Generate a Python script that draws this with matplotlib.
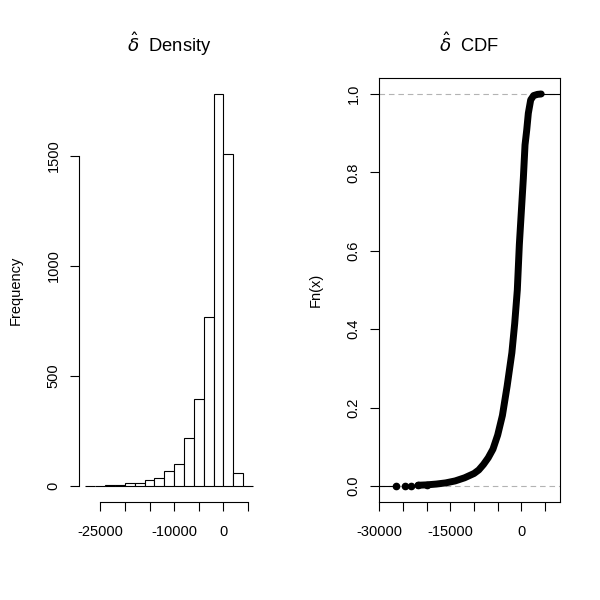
import numpy as np
import matplotlib.pyplot as plt

plt.rcParams['font.family'] = ['Liberation Sans', 'DejaVu Sans']
plt.rcParams['mathtext.fontset'] = 'dejavusans'
plt.rcParams['axes.unicode_minus'] = False

# histogram of delta-hat (bin width 2000)
bin_edges = [-28000, -26000, -24000, -22000, -20000, -18000, -16000, -14000, -12000,
             -10000, -8000, -6000, -4000, -2000, 0, 2000, 4000, 6000]
counts = [1, 1, 4, 5, 12, 12, 26, 36, 67, 100, 217, 394, 768, 1782, 1509, 58, 0]

hist_xticks = [-25000, -20000, -15000, -10000, -5000, 0, 5000]
hist_xlabels = ['-25000', '', '', '-10000', '', '0', '']
hist_yticks = [0, 500, 1000, 1500]

cdf_x = [-26430, -24650, -23250, -21840, -20000, -18000, -16000, -14000, -12000,
         -10000, -9000, -8000, -7000, -6000, -5000, -4000, -3000, -2000, -1400, -850,
         -420, 0, 430, 780, 1140, 1480, 1980, 2600, 3400, 4200]
cdf_y = [0.0002, 0.0006, 0.0012, 0.002, 0.003, 0.005, 0.008, 0.013, 0.021,
         0.032, 0.041, 0.055, 0.072, 0.094, 0.13, 0.18, 0.255, 0.34, 0.415, 0.5,
         0.616, 0.70, 0.786, 0.87, 0.908, 0.951, 0.985, 0.996, 0.999, 1.0]

cdf_xticks = [-30000, -25000, -20000, -15000, -10000, -5000, 0, 5000]
cdf_xlabels = ['-30000', '', '', '-15000', '', '', '0', '']
cdf_yticks = [0.0, 0.2, 0.4, 0.6, 0.8, 1.0]

fs = 10.5
fig = plt.figure(figsize=(6, 6), dpi=100)
ax1 = fig.add_axes([0.1312, 0.1638, 0.3017, 0.7057])
ax2 = fig.add_axes([0.6312, 0.1638, 0.3017, 0.7057])

# ---- left: histogram
edges = np.array(bin_edges)
ax1.bar(edges[:-1], counts, width=np.diff(edges), align='edge',
        facecolor='white', edgecolor='black', linewidth=0.8)
ax1.set_xlim(-29360, 7360)
ax1.set_ylim(-71.3, 1853.3)
for s in ['top', 'right']:
    ax1.spines[s].set_visible(False)
ax1.spines['left'].set_bounds(0, 1500)
ax1.spines['bottom'].set_bounds(-25000, 5000)
ax1.set_xticks(hist_xticks)
ax1.set_xticklabels(hist_xlabels)
ax1.set_yticks(hist_yticks)
ax1.set_yticklabels([str(v) for v in hist_yticks])
ax1.set_ylabel('Frequency', fontsize=fs, va='center')
ax1.yaxis.set_label_coords(-0.348, 0.5)

# ---- right: ecdf
ax2.axhline(0, color='#b3b3b3', lw=0.8, ls=(0, (5, 3.5)), zorder=1)
ax2.axhline(1, color='#b3b3b3', lw=0.8, ls=(0, (5, 3.5)), zorder=1)
ax2.plot([-30150, cdf_x[0]], [0, 0], color='black', lw=0.8, zorder=2)
ax2.plot([cdf_x[-1], 8120], [1, 1], color='black', lw=0.8, zorder=2)
ax2.plot(cdf_x[3:], cdf_y[3:], color='black', lw=5, solid_capstyle='round',
         solid_joinstyle='round', zorder=3)
ax2.plot(cdf_x[:5], cdf_y[:5], 'o', color='black', ms=4.5, zorder=3)
ax2.set_xlim(-30150, 8120)
ax2.set_ylim(-0.04, 1.04)
ax2.set_xticks(cdf_xticks)
ax2.set_xticklabels(cdf_xlabels)
ax2.set_yticks(cdf_yticks)
ax2.set_yticklabels(['%.1f' % v for v in cdf_yticks])
ax2.set_ylabel('Fn(x)', fontsize=fs, va='center')
ax2.yaxis.set_label_coords(-0.348, 0.5)

for ax in (ax1, ax2):
    for s in ax.spines.values():
        s.set_linewidth(0.8)
    ax.tick_params(direction='out', length=6.5, width=0.8, labelsize=fs, pad=6.5)
    ax.tick_params(axis='x', pad=10)
    plt.setp(ax.get_yticklabels(), rotation=90, va='center')

fig.text(0.2817, 1 - 51.5 / 600, r'$\hat{\delta}$  Density', ha='center', va='baseline', fontsize=13.2)
fig.text(0.7817, 1 - 51.5 / 600, r'$\hat{\delta}$  CDF', ha='center', va='baseline', fontsize=13.2)

plt.savefig('out.png', dpi=100)
